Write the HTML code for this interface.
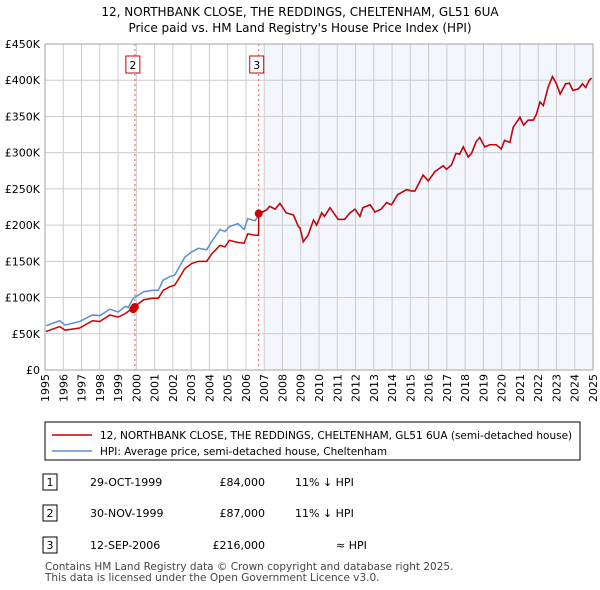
<!DOCTYPE html>
<html><head><meta charset="utf-8"><style>
body{margin:0;background:#fff;font-family:"Liberation Sans","DejaVu Sans",sans-serif;}
svg{display:block}
</style></head><body>
<svg width="600" height="590" viewBox="0 0 600 590" id="c" font-family="DejaVu Sans, Liberation Sans, sans-serif">
<text x="300" y="16" text-anchor="middle" font-size="12">12, NORTHBANK CLOSE, THE REDDINGS, CHELTENHAM, GL51 6UA</text>
<text x="300" y="32" text-anchor="middle" font-size="12">Price paid vs. HM Land Registry's House Price Index (HPI)</text>
<g id="plot"></g>
<rect x="45" y="422" width="535" height="38" fill="#fff" stroke="#000" stroke-width="1"/>
<line x1="52" y1="435" x2="92" y2="435" stroke="#cc0000" stroke-width="1.5"/>
<text x="100" y="439" font-size="10.5">12, NORTHBANK CLOSE, THE REDDINGS, CHELTENHAM, GL51 6UA (semi-detached house)</text>
<line x1="52" y1="451" x2="92" y2="451" stroke="#5b8ed6" stroke-width="1.5"/>
<text x="100" y="455" font-size="10.5">HPI: Average price, semi-detached house, Cheltenham</text>
<g font-size="11">
<rect x="43" y="474" width="14" height="16" fill="#fff" stroke="#000"/><text x="50" y="486" text-anchor="middle">1</text>
<text x="90" y="486">29-OCT-1999</text><text x="265" y="486" text-anchor="end">£84,000</text><text x="295" y="486">11% ↓ HPI</text>
<rect x="43" y="505" width="14" height="16" fill="#fff" stroke="#000"/><text x="50" y="517" text-anchor="middle">2</text>
<text x="90" y="517">30-NOV-1999</text><text x="265" y="517" text-anchor="end">£87,000</text><text x="295" y="517">11% ↓ HPI</text>
<rect x="43" y="537" width="14" height="16" fill="#fff" stroke="#000"/><text x="50" y="549" text-anchor="middle">3</text>
<text x="90" y="549">12-SEP-2006</text><text x="265" y="549" text-anchor="end">£216,000</text><text x="336" y="549">≈ HPI</text>
</g>
<text x="45" y="570" font-size="10.5" fill="#444">Contains HM Land Registry data © Crown copyright and database right 2025.</text>
<text x="45" y="581" font-size="10.5" fill="#444">This data is licensed under the Open Government Licence v3.0.</text>
</svg>
<script>
const hpiYears=[1995.05,1995.8,1996.1,1996.9,1997.6,1998.0,1998.55,1999.0,1999.4,1999.55,1999.83,2000.4,2000.9,2001.2,2001.47,2001.84,2002.1,2002.66,2003.03,2003.4,2003.85,2004.12,2004.58,2004.85,2005.1,2005.56,2005.9,2006.1,2006.5,2006.7,2007.13,2007.3,2007.6,2007.86,2008.2,2008.6,2008.87,2008.96,2009.14,2009.4,2009.7,2009.87,2010.15,2010.3,2010.6,2011.05,2011.4,2011.7,2011.97,2012.24,2012.4,2012.8,2013.06,2013.4,2013.7,2013.97,2014.3,2014.8,2015.07,2015.25,2015.7,2015.98,2016.35,2016.8,2016.98,2017.25,2017.5,2017.7,2017.9,2018.17,2018.35,2018.6,2018.8,2019.07,2019.35,2019.7,2019.98,2020.16,2020.45,2020.63,2021.0,2021.2,2021.45,2021.73,2021.9,2022.1,2022.28,2022.55,2022.78,2023.0,2023.2,2023.5,2023.7,2023.9,2024.2,2024.43,2024.6,2024.8,2024.92];
const hpiValues=[61,68,62,67,76,75,84,80,88,86,99,108,110,110,124,129,131,156,163,168,166,177,194,191,198,202,194,209,206,214,221,226,222,230,217,214,198,196,177,186,207,200,217,212,224,208,208,217,222,212,224,228,218,222,231,228,242,249,247,247,269,261,274,282,277,283,299,298,308,294,299,315,321,308,311,311,305,317,314,335,349,338,345,345,353,370,365,391,405,395,381,395,396,386,388,395,390,400,403];
const priceYears=[1995.05,1995.8,1996.1,1996.9,1997.6,1998.0,1998.55,1999.0,1999.4,1999.83,2000.4,2000.9,2001.2,2001.47,2001.84,2002.1,2002.66,2003.03,2003.4,2003.85,2004.12,2004.58,2004.85,2005.1,2005.56,2005.9,2006.1,2006.5,2006.69];
const priceValues=[53,60,55,58,68,67,76,73,78,86,97,99,99,110,115,117,140,147,150,150,160,172,170,179,176,175,188,186,186];
const saleYears=[1999.83,1999.92,2006.7];
const saleValues=[84,87,216];
const saleLabels=["1","2","3"];
const yTicks=[0,50,100,150,200,250,300,350,400,450];
const yTickLabels=["£0","£50K","£100K","£150K","£200K","£250K","£300K","£350K","£400K","£450K"];
const xTicks=[];for(let y=1995;y<=2025;y++)xTicks.push(y);

const L=45,R=593,T=44,B=370;
const xs=y=>L+(y-1995)/30*(R-L);
const ys=v=>B-v/450*(B-T);
const NS="http://www.w3.org/2000/svg";
const g=document.getElementById('plot');
function mk(t,a,p){const e=document.createElementNS(NS,t);for(const k in a)e.setAttribute(k,a[k]);(p||g).appendChild(e);return e;}
let e=mk('rect',{x:xs(2007),y:T,width:R-xs(2007),height:B-T,fill:'#f3f6fd'});


yTicks.forEach((v,i)=>{
 let l=mk('line',{x1:L,x2:R,y1:ys(v),y2:ys(v),stroke:'#cccccc'});
 
 
 let t=mk('text',{x:40,y:ys(v)+4,'text-anchor':'end','font-size':'11'});t.textContent=yTickLabels[i];
 
 
});
xTicks.forEach(y=>{
 let l=mk('line',{x1:xs(y),x2:xs(y),y1:T,y2:B,stroke:'#cccccc'});
 
 
 let t=mk('text',{x:0,y:0,'text-anchor':'end','font-size':'11',transform:`translate(${xs(y)+4},${B+4}) rotate(-90)`});t.textContent=y;
 
 
});
[1,2].forEach(i=>{
 let l=mk('line',{x1:xs(saleYears[i]),x2:xs(saleYears[i]),y1:T,y2:B,stroke:'#ee5555','stroke-dasharray':'2,3','stroke-width':'1'});
 
 
 let r=mk('rect',{x:xs(saleYears[i])-9,y:56,width:14,height:17,fill:'#fff',stroke:'#cc0000'});
 
 
 let t=mk('text',{x:xs(saleYears[i])-2,y:69,'text-anchor':'middle','font-size':'11'});t.textContent=saleLabels[i];
 
 
});
let hp=mk('polyline',{points:hpiYears.map((y,i)=>xs(y)+','+ys(hpiValues[i])).join(' '),fill:'none',stroke:'#5b8ed6','stroke-width':'1.5'});


let pts=priceYears.map((y,i)=>xs(y)+','+ys(priceValues[i]));
pts.push(xs(saleYears[2])+','+ys(saleValues[2]));
hpiYears.forEach((y,i)=>{if(y>saleYears[2])pts.push(xs(y)+','+ys(hpiValues[i]));});
let pl=mk('polyline',{points:pts.join(' '),fill:'none',stroke:'#cc0000','stroke-width':'1.5'});


saleYears.forEach((y,i)=>{
 let c=mk('circle',{cx:xs(y),cy:ys(saleValues[i]),r:4,fill:'#cc0000'});
 
 
});
let ax=mk('rect',{x:L,y:T,width:R-L,height:B-T,fill:'none',stroke:'#999','stroke-width':'0.8'});


</script>
</body></html>
